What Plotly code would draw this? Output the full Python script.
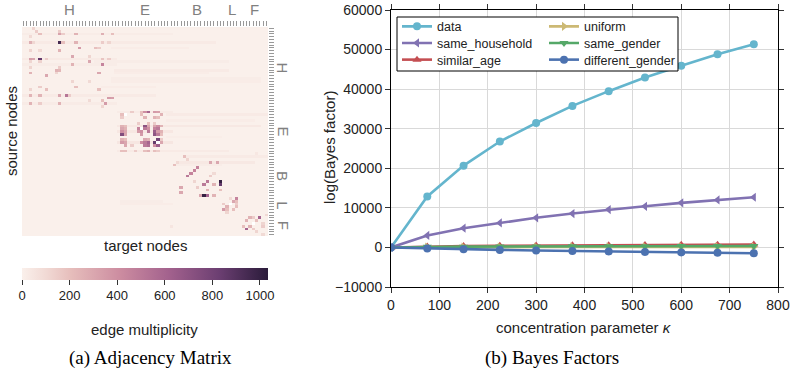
import numpy as np
import plotly.graph_objects as go

# ---------------- data: adjacency matrix (panel a) ----------------
group_names = ["H", "E", "B", "L", "F"]
group_sizes = [29, 17, 15, 6, 8]

# (source, target, edge multiplicity) for the visible cells
edge_cells = [
    (0, 3, 120), (1, 4, 150), (1, 11, 150), (3, 2, 100),
    (2, 5, 200), (2, 11, 320), (2, 12, 150), (2, 16, 250), (2, 24, 260), (2, 27, 200),
    (5, 2, 260), (5, 11, 950), (5, 12, 200), (5, 16, 250), (5, 24, 150), (5, 26, 120), (5, 3, 110),
    (7, 17, 350), (7, 22, 200), (7, 23, 150),
    (8, 11, 250), (8, 2, 120), (8, 5, 100),
    (10, 15, 300), (10, 20, 120),
    (11, 2, 330), (11, 3, 300), (11, 5, 850), (11, 7, 150), (11, 24, 180), (11, 26, 150),
    (12, 20, 300), (12, 2, 120), (12, 5, 130),
    (13, 15, 250), (13, 24, 450),
    (14, 2, 120), (14, 11, 150),
    (15, 10, 250), (15, 11, 230),
    (16, 2, 250), (16, 23, 300), (16, 10, 120),
    (17, 7, 300),
    (19, 15, 120), (19, 20, 100),
    (21, 16, 200), (21, 5, 150),
    (22, 7, 200), (22, 23, 200), (22, 2, 120),
    (24, 2, 250), (24, 5, 250), (24, 11, 300), (24, 13, 520), (24, 14, 150),
    (25, 26, 350), (25, 27, 330),
    (26, 24, 200), (26, 20, 100),
    (27, 2, 250), (27, 5, 150), (27, 11, 250), (27, 25, 350),
    (28, 24, 120),
    (30, 37, 400), (30, 38, 600), (30, 40, 350), (30, 41, 330), (30, 36, 200), (30, 33, 150),
    (31, 42, 250), (31, 36, 200), (31, 30, 200),
    (32, 30, 150), (32, 37, 250), (32, 40, 250), (32, 41, 200),
    (34, 35, 150), (34, 38, 200), (34, 40, 150),
    (35, 30, 250), (35, 31, 200), (35, 37, 700), (35, 38, 300), (35, 40, 300), (35, 41, 400), (35, 42, 250),
    (36, 30, 300), (36, 31, 250), (36, 35, 450), (36, 37, 500), (36, 38, 400), (36, 40, 450), (36, 41, 500),
    (37, 30, 400), (37, 31, 300), (37, 35, 350), (37, 36, 400), (37, 38, 500), (37, 40, 650), (37, 41, 350), (37, 42, 250),
    (38, 30, 750), (38, 31, 300), (38, 36, 350), (38, 40, 700), (38, 41, 500), (38, 42, 200),
    (40, 30, 250), (40, 31, 200), (40, 37, 300), (40, 38, 250), (40, 41, 800), (40, 42, 150),
    (41, 30, 350), (41, 31, 300), (41, 36, 400), (41, 37, 500), (41, 38, 600), (41, 40, 850), (41, 42, 300),
    (42, 31, 300), (42, 37, 500), (42, 38, 550), (42, 40, 400), (42, 41, 650), (42, 33, 150),
    (44, 30, 200), (44, 31, 200), (44, 34, 150), (44, 37, 200), (44, 38, 250), (44, 40, 200), (44, 41, 150),
    (46, 49, 200), (47, 50, 120), (48, 47, 100), (48, 57, 300), (48, 59, 300), (49, 46, 200),
    (50, 53, 450), (51, 52, 450), (52, 51, 450), (52, 58, 100), (53, 50, 500), (53, 57, 150),
    (55, 52, 120), (55, 56, 500), (55, 60, 1000), (56, 55, 500), (56, 58, 250), (56, 60, 850),
    (57, 48, 300), (57, 53, 150), (58, 56, 250), (58, 60, 200), (59, 48, 300),
    (60, 54, 300), (60, 55, 1000), (60, 56, 600), (60, 58, 250),
    (61, 63, 100), (61, 65, 450), (62, 64, 300), (62, 65, 200), (63, 61, 150), (63, 65, 150),
    (64, 62, 250), (64, 65, 200), (65, 61, 350), (65, 62, 200), (65, 64, 200), (66, 62, 120),
    (67, 74, 100), (68, 69, 250), (68, 70, 150), (68, 72, 600), (69, 68, 250), (69, 71, 200),
    (70, 73, 120), (71, 67, 200), (71, 69, 250), (71, 73, 150), (72, 68, 600), (72, 70, 150),
    (73, 71, 120), (74, 73, 100), (45, 71, 40), (71, 45, 50),
]

# (source, first target, last target, edge multiplicity) faint horizontal bands
faint_rows = [
    (2, 0, 45, 20), (5, 0, 58, 28), (7, 27, 50, 16), (11, 0, 28, 28), (12, 22, 62, 20),
    (13, 0, 28, 20), (15, 28, 62, 26), (16, 28, 56, 16), (18, 27, 72, 20), (19, 27, 72, 16),
    (21, 24, 40, 16), (24, 0, 40, 28), (27, 0, 28, 24),
    (30, 29, 45, 24), (31, 44, 74, 26), (33, 44, 70, 16), (35, 29, 72, 36), (37, 29, 45, 40),
    (39, 44, 60, 14), (41, 29, 45, 45), (44, 29, 62, 28),
    (46, 50, 74, 26), (48, 47, 70, 34), (49, 46, 60, 20), (62, 30, 42, 20), (63, 30, 45, 16),
]

# cells with no edges that show as blank holes
empty_cells = [(31, 31), (36, 36), (41, 41), (63, 63), (70, 70)]

# ---------------- data: Bayes factors (panel b) ----------------
kappa = [0, 75, 150, 225, 300, 375, 450, 525, 600, 675, 750]
bf_data = [0, 12870, 20670, 26770, 31440, 35760, 39490, 42960, 45930, 48810, 51360]
bf_same_household = [0, 3020, 4870, 6200, 7480, 8570, 9580, 10400, 11260, 12000, 12680]
bf_similar_age = [0, 250, 330, 400, 460, 520, 570, 610, 650, 700, 750]
bf_uniform = [0, 60, 80, 90, 100, 110, 110, 120, 120, 130, 130]
bf_same_gender = [0, 150, 200, 230, 260, 280, 300, 320, 340, 350, 360]
bf_different_gender = [0, -250, -450, -620, -780, -900, -1020, -1130, -1250, -1350, -1480]

# ---------------- build matrix ----------------
N = sum(group_sizes)
z = np.zeros((N, N))
for r, c0, c1, v in faint_rows:
    z[r, c0:c1 + 1] = np.maximum(z[r, c0:c1 + 1], v)
for r, c, v in edge_cells:
    z[r, c] = v
z_list = z.tolist()
for r, c in empty_cells:
    z_list[r][c] = None

bounds = np.cumsum([0] + group_sizes)
centers = [(bounds[i] + bounds[i + 1] - 1) / 2 for i in range(len(group_sizes))]

W, H = 791, 382
def px(x):
    return x / W
def py(y):
    return (H - y) / H

colorscale = [
    [0.0, "#FAF0EB"], [0.1, "#F1D9D4"], [0.2, "#E6BDBB"], [0.4, "#CC8CA0"],
    [0.6, "#A2618D"], [0.8, "#6C3F72"], [1.0, "#2A1B3A"],
]

fig = go.Figure()
fig.add_trace(go.Heatmap(
    z=z_list, x=list(range(N)), y=list(range(N)), xaxis="x", yaxis="y",
    colorscale=colorscale, zmin=0, zmax=1034, hoverongaps=False,
    colorbar=dict(
        orientation="h", x=px(22), xanchor="left", y=py(268), yanchor="top",
        len=246, lenmode="pixels", thickness=12, thicknessmode="pixels",
        xpad=0, ypad=0, outlinewidth=0,
        tickvals=[0, 200, 400, 600, 800, 1000], ticks="outside", ticklen=5,
        tickcolor="#333", tickfont=dict(size=13, color="#222"),
    ),
    showlegend=False,
))

font_main = "Liberation Sans, Arial, sans-serif"
colors = {
    "data": "#64B5CD", "same_household": "#8172B2", "similar_age": "#C44E52",
    "uniform": "#CCB974", "same_gender": "#55A868", "different_gender": "#4C72B0",
}
series = [
    ("data", bf_data, "circle"),
    ("same_household", bf_same_household, "triangle-left"),
    ("similar_age", bf_similar_age, "triangle-up"),
    ("uniform", bf_uniform, "triangle-right"),
    ("same_gender", bf_same_gender, "triangle-down"),
    ("different_gender", bf_different_gender, "circle"),
]
legend_ids = ["legend", "legend2", "legend3", "legend4", "legend5", "legend6"]
legend_pos = [(397, 26.7), (397, 43.3), (397, 60), (544, 26.7), (544, 43.3), (544, 60)]
for (name, vals, sym), lid in zip(series, legend_ids):
    fig.add_trace(go.Scatter(
        x=kappa, y=vals, name=name, mode="lines+markers", xaxis="x2", yaxis="y2",
        line=dict(color=colors[name], width=2.6),
        marker=dict(symbol=sym, size=8, color=colors[name]),
        legend=lid, showlegend=True,
    ))

axis_common = dict(
    showline=True, linecolor="black", linewidth=1, mirror="ticks", ticks="outside",
    ticklen=5, tickcolor="#333", showgrid=True, gridcolor="#D9D9D9", gridwidth=1,
    zeroline=False, tickfont=dict(size=14, color="#222"), automargin=False,
)

def ann(text, x, y, size=15, color="#222", angle=0, family=None, xref="paper", yref="paper"):
    f = dict(size=size, color=color)
    if family:
        f["family"] = family
    return dict(text=text, x=x, y=y, xref=xref, yref=yref, showarrow=False,
                xanchor="center", yanchor="middle", textangle=angle, font=f)

annotations = []
for name, c in zip(group_names, centers):
    annotations.append(ann(name, c, py(10), size=15, color="#808080", xref="x"))
    annotations.append(ann(name, px(283), c, size=15, color="#808080", angle=90, yref="y"))
serif = "Liberation Serif, Times New Roman, serif"
annotations += [
    ann("target nodes", px(145), py(245)),
    ann("source nodes", px(12), py(131), angle=-90),
    ann("edge multiplicity", px(144), py(329)),
    ann("concentration parameter <i>κ</i>", px(584), py(327)),
    ann("log(Bayes factor)", px(329), py(148), angle=-90),
    ann("(a) Adjacency Matrix", px(150), py(358), size=19, color="black", family=serif),
    ann("(b) Bayes Factors", px(552), py(358), size=19, color="black", family=serif),
]

legend_common = dict(xanchor="left", yanchor="middle", bgcolor="rgba(0,0,0,0)", borderwidth=0,
                     font=dict(size=12.5, color="#222"), tracegroupgap=0, itemclick=False,
                     visible=True)
legends = {}
for lid, (lx, ly) in zip(legend_ids, legend_pos):
    legends[lid] = dict(x=px(lx), y=py(ly), **legend_common)

fig.update_layout(
    width=W, height=H, margin=dict(l=0, r=0, t=0, b=0, pad=0, autoexpand=False),
    paper_bgcolor="white", plot_bgcolor="white", showlegend=True,
    font=dict(family=font_main, color="#222"),
    xaxis=dict(domain=[px(22), px(268)], anchor="y", range=[-0.5, N - 0.5], side="top",
               tickvals=list(range(N)), ticks="outside", ticklen=5, tickcolor="#999",
               showticklabels=False, showgrid=False, zeroline=False, showline=False, automargin=False),
    yaxis=dict(domain=[py(236), py(27)], anchor="x", range=[N - 0.5, -0.5], side="right",
               tickvals=list(range(N)), ticks="outside", ticklen=5, tickcolor="#999",
               showticklabels=False, showgrid=False, zeroline=False, showline=False, automargin=False),
    xaxis2=dict(domain=[px(391), px(778)], anchor="y2", range=[0, 800], dtick=100, **axis_common),
    yaxis2=dict(domain=[py(287), py(10)], anchor="x2", range=[-10000, 60000], dtick=10000,
                tickformat="d", **axis_common),
    shapes=[dict(type="rect", xref="paper", yref="paper", x0=px(397), x1=px(678),
                 y0=py(71), y1=py(17), fillcolor="white", line=dict(color="black", width=1),
                 layer="above")],
    annotations=annotations,
    **legends,
)

fig.write_html("out.html")
